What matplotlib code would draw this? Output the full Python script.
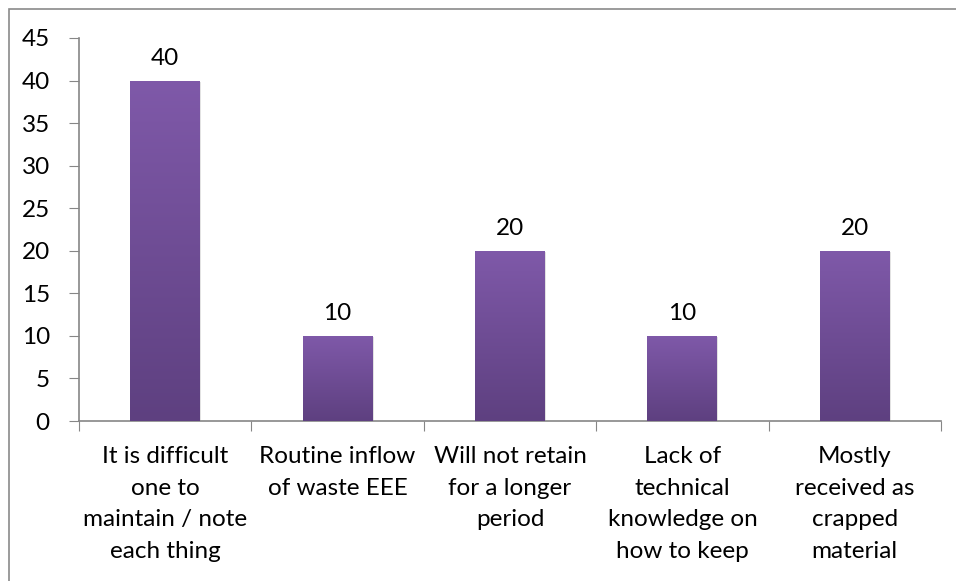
import numpy as np
import matplotlib
matplotlib.use('Agg')
import matplotlib.pyplot as plt
from matplotlib.patches import Rectangle
from matplotlib.colors import LinearSegmentedColormap

categories = ['It is difficult\none to\nmaintain / note\neach thing',
              'Routine inflow\nof waste EEE',
              'Will not retain\nfor a longer\nperiod',
              'Lack of\ntechnical\nknowledge on\nhow to keep',
              'Mostly\nreceived as\ncrapped\nmaterial']
values = [40, 10, 20, 10, 20]
yticks = [0, 5, 10, 15, 20, 25, 30, 35, 40, 45]

plt.rcParams['font.family'] = ['Lato', 'DejaVu Sans']
axis_col = '#868686'
fs = 17.5

fig = plt.figure(figsize=(9.56, 5.81), dpi=100)
# outer chart border (cut off at right and bottom like the screenshot)
fig.patches.append(Rectangle((9 / 956, -0.1), 1.2, 1 - 9 / 581 + 0.1,
                             transform=fig.transFigure, fill=False,
                             edgecolor='#8a8a8a', linewidth=1.2))

ax = fig.add_axes([79 / 956, 1 - 421 / 581, (941 - 79) / 956, (421 - 38) / 581])
x = np.arange(len(categories))
bw = 0.406
cmap = LinearSegmentedColormap.from_list('purp', ['#5E4080', '#7F59A9'])
grad = np.linspace(0, 1, 256).reshape(-1, 1)

bars = ax.bar(x, values, width=bw, color='none', zorder=3)
for b, v in zip(bars, values):
    # soft shadow
    ax.add_patch(Rectangle((b.get_x() + 0.006, 0), bw, v - 0.15, facecolor='#d0d0d0',
                           edgecolor='none', alpha=0.6, zorder=2))
    im = ax.imshow(grad, cmap=cmap, aspect='auto', origin='lower',
                   extent=(b.get_x(), b.get_x() + bw, 0, v), zorder=3)
    im.set_clip_path(b)
    ax.text(b.get_x() + bw / 2, v + 1.4, str(v), ha='center', va='bottom', fontsize=fs)

ax.set_xlim(-0.5, len(categories) - 0.5)
ax.set_ylim(0, 45)
ax.set_yticks(yticks)
ax.set_yticklabels([str(t) for t in yticks], fontsize=fs)
ax.set_xticks(np.arange(len(categories) + 1) - 0.5)
ax.set_xticklabels([])
ax.set_xticks(x, minor=True)
ax.set_xticklabels(categories, minor=True, fontsize=fs, linespacing=1.62, va='top')
ax.tick_params(axis='x', which='minor', length=0, pad=18)
ax.tick_params(axis='x', which='major', length=7, color=axis_col, direction='out')
ax.tick_params(axis='y', length=7, color=axis_col, direction='out', pad=14)
for s in ['top', 'right']:
    ax.spines[s].set_visible(False)
for s in ['left', 'bottom']:
    ax.spines[s].set_color(axis_col)
    ax.spines[s].set_linewidth(1.2)

fig.savefig('out.png', dpi=100)
